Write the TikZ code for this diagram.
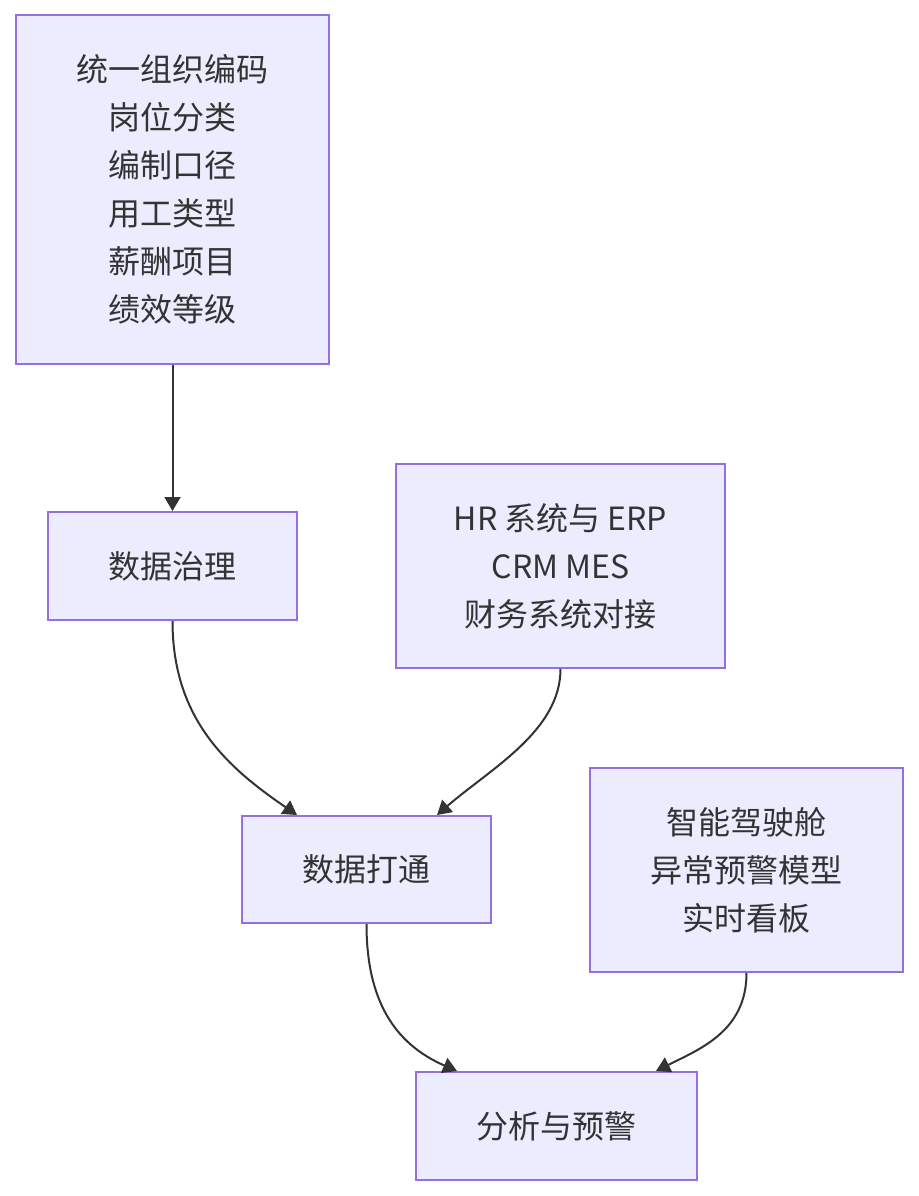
\documentclass[tikz,border=0pt]{standalone}
\usepackage{fontspec}
\setmainfont{Noto Sans CJK SC}
\usetikzlibrary{arrows.meta}
\definecolor{boxfill}{HTML}{ECECFF}
\definecolor{boxline}{HTML}{9370DB}
\definecolor{txt}{HTML}{333333}
\tikzset{
  box/.style={draw=boxline, fill=boxfill, line width=1pt, text=txt,
    align=center, font=\fontsize{16pt}{24pt}\selectfont, inner sep=0pt},
  edge/.style={draw=txt, line width=1pt, -{Triangle[length=7pt,width=8pt]}}
}
\begin{document}
\begin{tikzpicture}[x=0.5pt,y=-0.5pt]
\useasboundingbox (0,0) rectangle (918,1196);
\node[box, minimum width=156.5pt, minimum height=174.5pt] (A) at (172.5,189.5)
  {统一组织编码\\岗位分类\\编制口径\\用工类型\\薪酬项目\\绩效等级};
\node[box, minimum width=124.5pt, minimum height=54pt] (B) at (172.5,566) {数据治理};
\node[box, minimum width=164.5pt, minimum height=102pt] (C) at (560.5,566)
  {HR 系统与 ERP\\CRM MES\\财务系统对接};
\node[box, minimum width=124.5pt, minimum height=53.5pt] (D) at (366.5,869.5) {数据打通};
\node[box, minimum width=156.5pt, minimum height=102pt] (E) at (746.5,870)
  {智能驾驶舱\\异常预警模型\\实时看板};
\node[box, minimum width=140.5pt, minimum height=54pt] (F) at (556.5,1126) {分析与预警};

\draw[edge] (A.south) -- (B.north);
\draw[edge] (B.south) .. controls +(0,100) and +(-67,-46) .. ([xshift=-34.75pt]D.north);
\draw[edge] (C.south) .. controls +(0,62) and +(53,-46) .. ([xshift=35.25pt]D.north);
\draw[edge] (D.south) .. controls +(0,77) and +(-62,-27) .. ([xshift=-49.75pt]F.north);
\draw[edge] (E.south) .. controls +(0,58) and +(44,-22) .. ([xshift=49.75pt]F.north);
\end{tikzpicture}
\end{document}
